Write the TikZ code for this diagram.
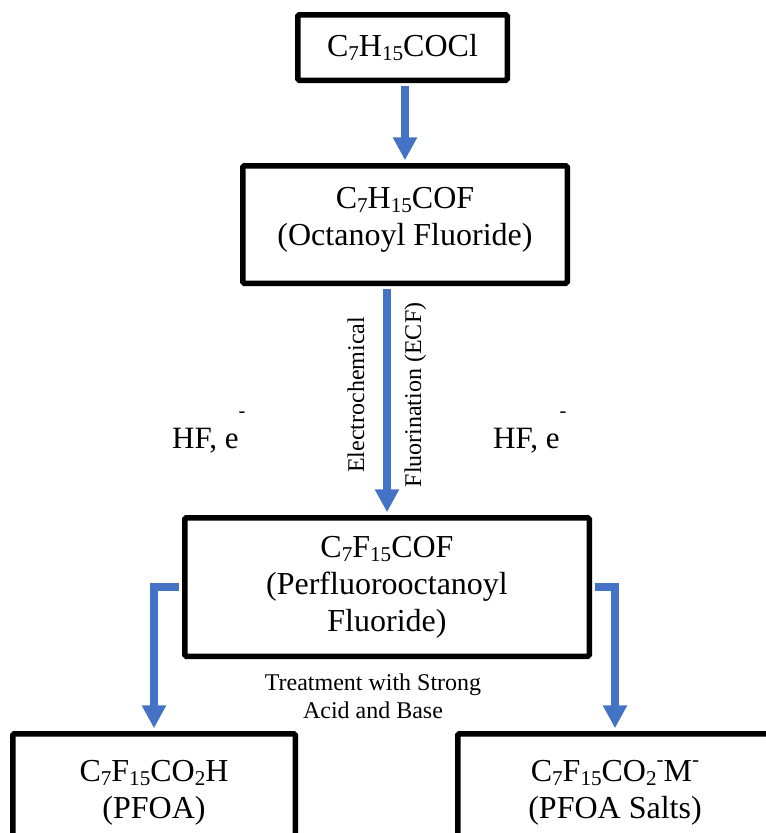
\documentclass[tikz,border=0pt]{standalone}
\usepackage{fontspec}
\setmainfont{Liberation Serif}
\usetikzlibrary{arrows.meta}
\definecolor{flowblue}{HTML}{4472C4}
\newcommand{\chsub}[1]{\raisebox{-0.12em}{\scalebox{0.66}{#1}}}
\newcommand{\chsup}[1]{\raisebox{0.45em}{\scalebox{0.66}{#1}}}
\tikzset{
  chembox/.style={draw, line width=5.5pt, rounded corners=1.5pt, align=center, inner sep=0pt,
    font=\fontsize{32}{37}\selectfont},
  flowarrow/.style={flowblue, line width=8pt, shorten <=2.75pt, shorten >=2.75pt,
    -{Triangle[width=23pt,length=23pt]}},
  note/.style={inner sep=0pt, font=\fontsize{24}{28}\selectfont},
  reagent/.style={inner sep=0pt, font=\fontsize{31}{36}\selectfont}
}

\begin{document}
\begin{tikzpicture}[x=1pt,y=-1pt]
  \useasboundingbox (0,0) rectangle (766,833); \clip (0,0) rectangle (766,833);
  % boxes
  \node[chembox, minimum width=209.5pt, minimum height=65.5pt] (acyl) at (402.5,47.5) {C\chsub{7}H\chsub{15}COCl};
  \node[chembox, minimum width=324.5pt, minimum height=117.5pt] (octf) at (405,224.5) {C\chsub{7}H\chsub{15}COF\\(Octanoyl Fluoride)\rule[-16pt]{0pt}{0pt}};
  \node[chembox, minimum width=404.5pt, minimum height=138.5pt] (pfocf) at (387,587) {C\chsub{7}F\chsub{15}COF\\(Perfluorooctanoyl\\Fluoride)};
  \node[chembox, minimum width=282.5pt, minimum height=117.5pt] (pfoa) at (154,792.5) {C\chsub{7}F\chsub{15}CO\chsub{2}H\\(PFOA)};
  \node[chembox, minimum width=314.5pt, minimum height=117.5pt] (salts) at (615,792.5) {C\chsub{7}F\chsub{15}CO\chsub{2}\chsup{-}M\chsup{-}\\(PFOA Salts)};
  % arrows
  \draw[flowarrow] (octf.north |- acyl.south) -- (octf.north);
  \draw[flowarrow] (pfocf.north |- octf.south) -- (pfocf.north);
  \draw[flowarrow] (pfocf.west) -| (pfoa.north);
  \draw[flowarrow] (pfocf.east) -| (salts.north);
  % labels
  \node[reagent, anchor=base west] (hfleft) at (172,448) {HF, e\raisebox{1em}{\scalebox{0.66}{-}}};
  \node[reagent, anchor=base west] (hfright) at (493,448) {HF, e\raisebox{1em}{\scalebox{0.66}{-}}};
  \node[note, rotate=90, anchor=base] (ecfa) at (364,395) {Electrochemical};
  \node[note, rotate=90, anchor=base] (ecfb) at (421,395) {Fluorination (ECF)};
  \node[note, align=center] (treat) at (373,696) {Treatment with Strong\\Acid and Base};
\end{tikzpicture}
\end{document}
